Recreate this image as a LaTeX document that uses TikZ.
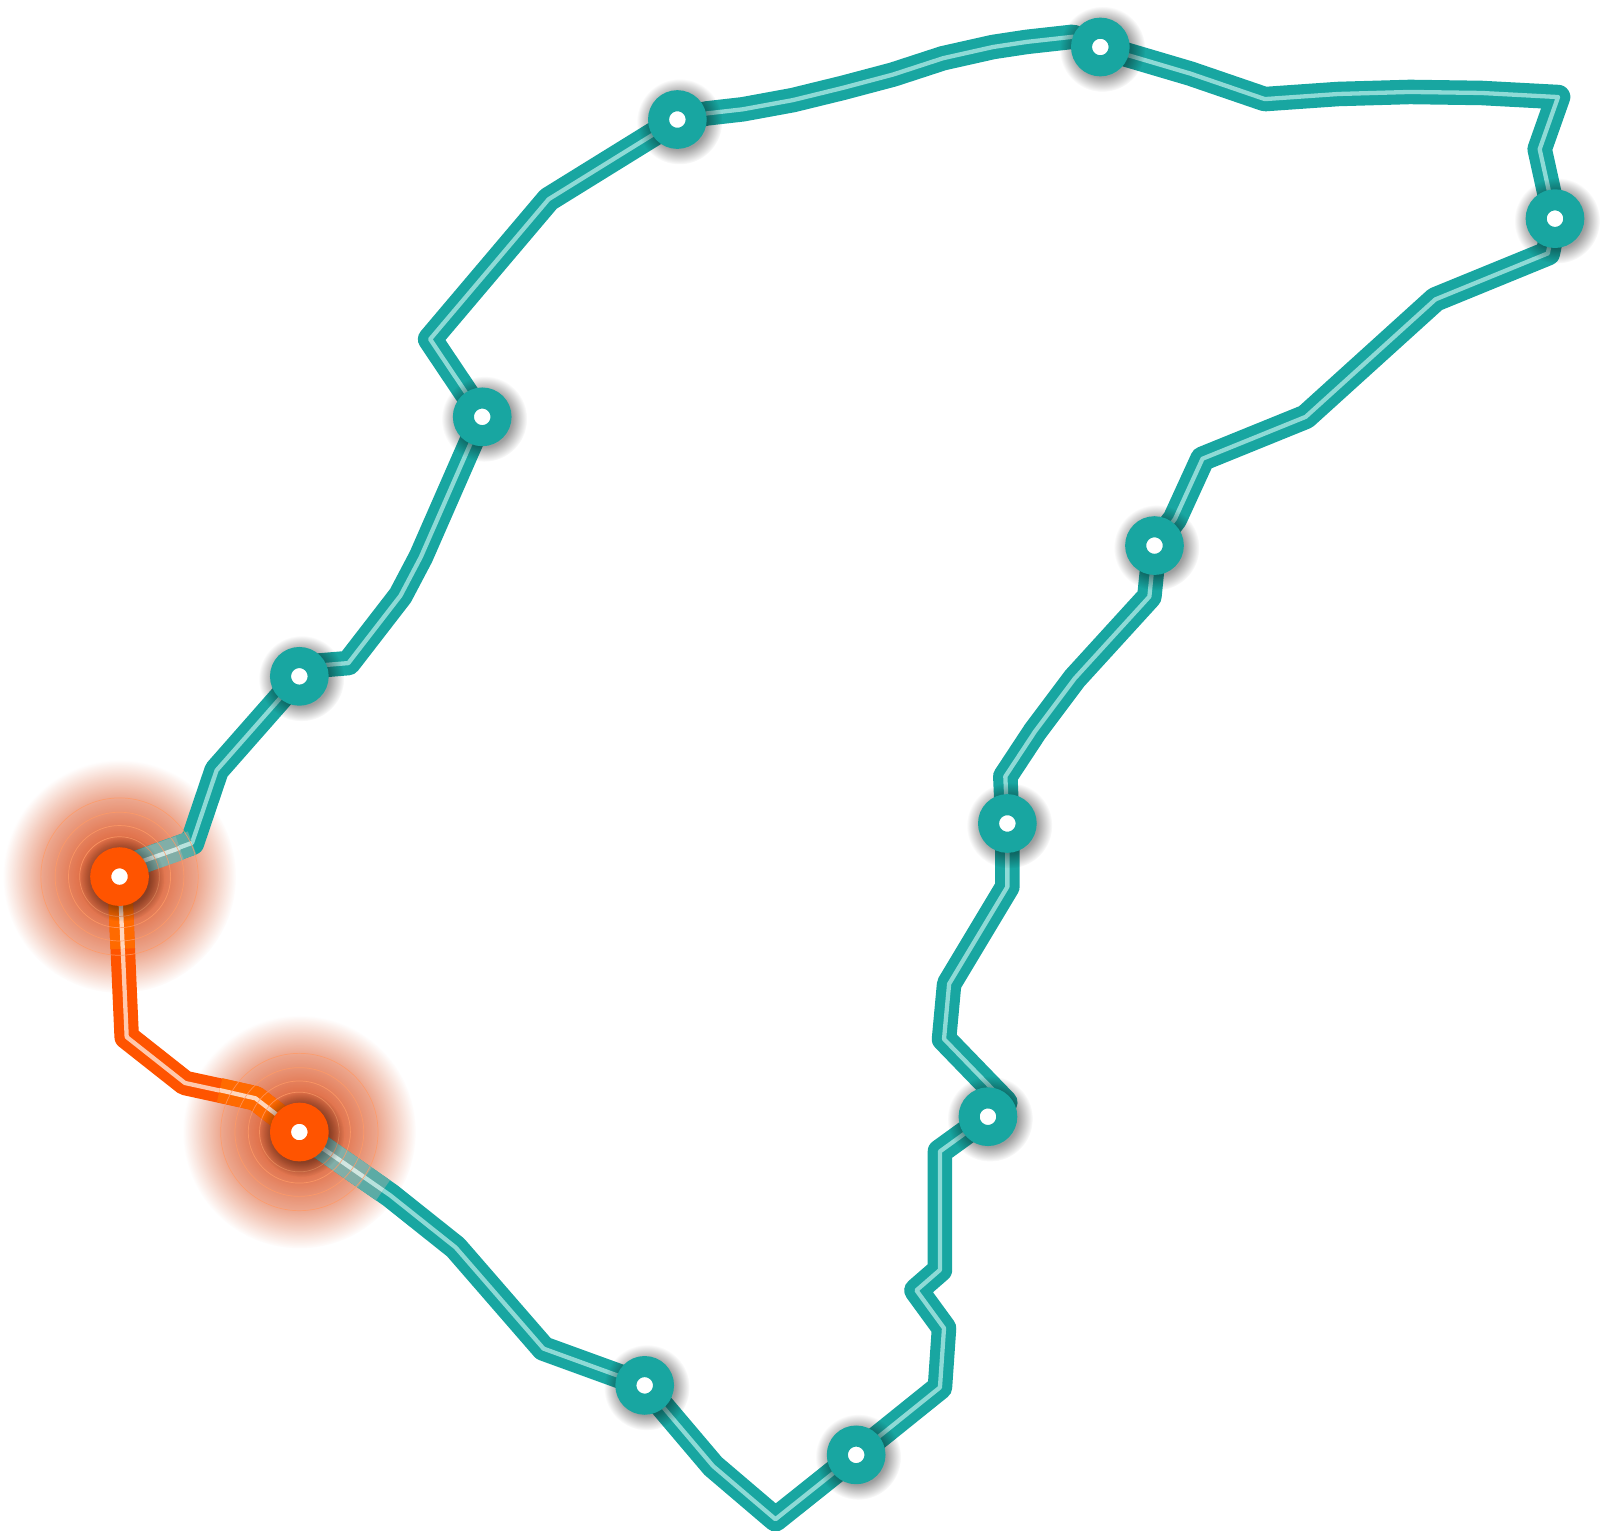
\documentclass[tikz,border=0pt]{standalone}
\usetikzlibrary{backgrounds,fadings,calc}

\definecolor{routeteal}{HTML}{18A6A1}
\definecolor{routelight}{HTML}{8EDAD6}
\definecolor{alertred}{HTML}{FF5400}
\definecolor{alertlight}{HTML}{FFC9AE}
\definecolor{alertglow}{HTML}{FF6A00}
\definecolor{glowlight}{HTML}{FFD6BC}
\definecolor{dimteal}{HTML}{82AEA7}
\definecolor{dimlight}{HTML}{D2E6E1}
\definecolor{midteal}{HTML}{5CABA5}
\definecolor{midlight}{HTML}{B8E2DD}
\definecolor{haloc}{HTML}{DC5A2C}
\definecolor{ringc}{HTML}{FF9A66}

\pgfdeclareradialshading{haloshade}{\pgfpointorigin}{color(0bp)=(transparent!0); color(7bp)=(transparent!8); color(11bp)=(transparent!23); color(16.4bp)=(transparent!45); color(20.8bp)=(transparent!72); color(24bp)=(transparent!93); color(25bp)=(transparent!100); color(50bp)=(transparent!100)}
\pgfdeclarefading{halofade}{\pgfuseshading{haloshade}}
\pgfdeclareradialshading{shadowshade}{\pgfpointorigin}{color(0bp)=(transparent!62); color(16bp)=(transparent!62); color(25bp)=(transparent!100); color(50bp)=(transparent!100)}
\pgfdeclarefading{shadowfade}{\pgfuseshading{shadowshade}}

\newcommand{\leg}[3]{
    \draw[legback, draw=#1] #3;
    \draw[legfront, draw=#2] #3;
}

\tikzset{
    station/.style={circle, draw=routeteal, fill=white, line width=10.3pt, minimum size=18.4pt, inner sep=0pt},
    alert/.style={station, draw=alertred},
    legback/.style={line width=12pt, line join=round},
    legfront/.style={line width=2.1pt, line join=round},
    halo/.style={fill=haloc, path fading=halofade},
    ring/.style={draw=ringc, line width=0.35pt, opacity=0.8},
    nodeshadow/.style={fill=black, path fading=shadowfade}
}

\begin{document}
\begin{tikzpicture}[x=0.5pt, y=-0.5pt]
    \useasboundingbox (0, 0) rectangle (1569, 1498);

    \node[station] (top) at (1077, 46) {};
    \node[station] (north) at (663, 117) {};
    \node[station] (ridge) at (472, 408) {};
    \node[station] (coast) at (293, 662) {};
    \node[alert] (alarmA) at (117, 858) {};
    \node[alert] (alarmB) at (293, 1108) {};
    \node[station] (bay) at (631, 1356) {};
    \node[station] (south) at (838, 1424) {};
    \node[station] (bend) at (967, 1093) {};
    \node[station] (middle) at (986, 806) {};
    \node[station] (inner) at (1130, 534) {};
    \node[station] (east) at (1522, 214) {};

    \begin{scope}[on background layer]
        \fill[halo] (alarmA.center) circle (114);
        \fill[halo] (alarmB.center) circle (114);

        \leg{routeteal}{routelight}{(top.center) -- (1165, 72) -- (1238, 97) -- (1310, 92) -- (1380, 90) -- (1450, 91) -- (1525, 95) -- (1507, 146) -- (east.center)}
        \leg{routeteal}{routelight}{(east.center) -- (1515, 248) -- (1405, 293) -- (1278, 408) -- (1177, 449) -- (1150, 508) -- (inner.center)}
        \leg{routeteal}{routelight}{(inner.center) -- (1125, 584) -- (1052, 664) -- (1013, 716) -- (984, 760) -- (middle.center)}
        \leg{routeteal}{routelight}{(middle.center) -- (986, 868) -- (929, 963) -- (924, 1017) -- (984, 1079) -- (bend.center)}
        \leg{routeteal}{routelight}{(bend.center) -- (920, 1127) -- (920, 1243) -- (897, 1263) -- (924, 1300) -- (920, 1358) -- (south.center)}
        \leg{routeteal}{routelight}{(south.center) -- (759, 1487) -- (698, 1435) -- (bay.center)}
        \leg{routeteal}{routelight}{(bay.center) -- (532, 1320) -- (446, 1221) -- (382, 1170) -- (alarmB.center)}
        \leg{routeteal}{routelight}{(alarmA.center) -- (125, 848) -- (188, 825) -- (212, 754) -- (coast.center)}
        \leg{routeteal}{routelight}{(coast.center) -- (305, 652) -- (341, 649) -- (392, 583) -- (412, 545) -- (ridge.center)}
        \leg{routeteal}{routelight}{(ridge.center) -- (421, 332) -- (537, 195) -- (north.center)}
        \leg{routeteal}{routelight}{(north.center) -- (692, 111) -- (727, 107) -- (776, 98) -- (825, 86) -- (874, 73) -- (923, 57) -- (972, 46) -- (1005, 41) -- (1050, 36) -- (top.center)}
        \leg{alertred}{alertlight}{(alarmA.center) -- (124, 1015) -- (181, 1060) -- (250, 1075) -- (alarmB.center)}

        % washed out ends of the legs inside the halos
        \coordinate (dimA) at (176, 830);
        \coordinate (dimB) at (382, 1170);
        \coordinate (glowA) at (124, 1015);
        \coordinate (glowB) at (215, 1067);
        \leg{midteal}{midlight}{(alarmB.center) -- ($(alarmB)!0.92!(dimB)$)}
        \leg{dimteal}{dimlight}{(alarmB.center) -- ($(alarmB)!0.72!(dimB)$)}
        \leg{midteal}{midlight}{(alarmA.center) -- (125, 848) -- (188, 825)}
        \leg{dimteal}{dimlight}{(alarmA.center) -- (125, 848) -- (dimA)}
        \leg{alertglow}{glowlight}{(alarmA.center) -- ($(alarmA)!0.45!(glowA)$)}
        \leg{alertglow}{glowlight}{(alarmB.center) -- (250, 1075) -- (glowB)}

        \foreach \r in {39, 50, 63, 77} {
            \draw[ring] (alarmA.center) circle (\r);
            \draw[ring] (alarmB.center) circle (\r);
        }
        \foreach \n in {top, north, ridge, coast, alarmA, alarmB, bay, south, bend, middle, inner, east} {
            \fill[nodeshadow] ([shift={(2, 2)}]\n.center) circle (42);
        }
    \end{scope}
\end{tikzpicture}
\end{document}
